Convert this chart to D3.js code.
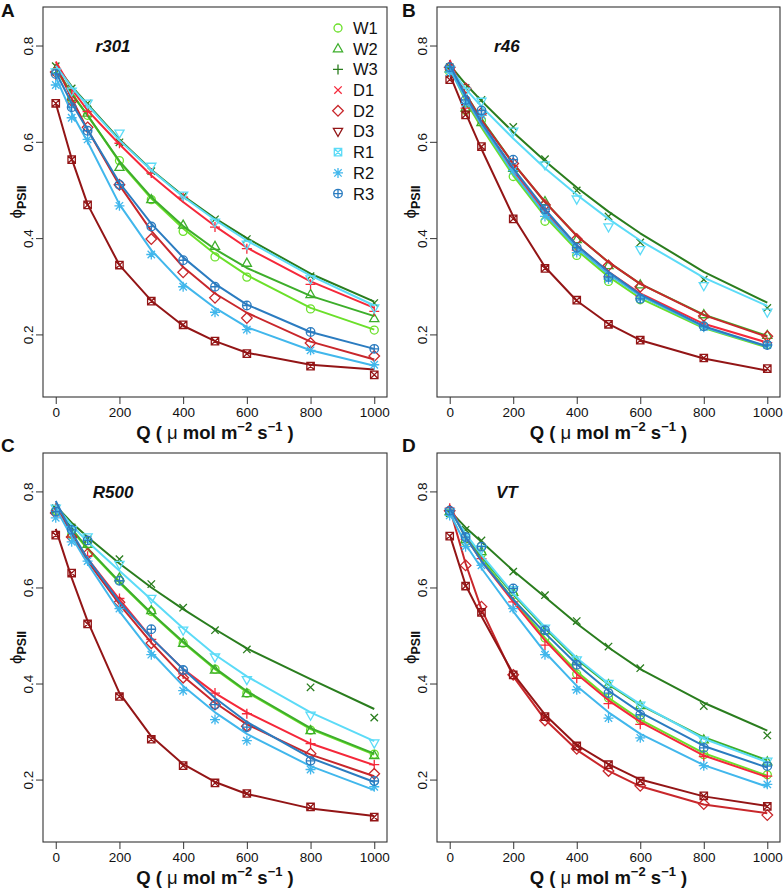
<!DOCTYPE html>
<html><head><meta charset="utf-8">
<script src="https://cdn.jsdelivr.net/npm/d3@7"></script>
<style>
body{margin:0;background:#fff}
text{font-family:"Liberation Sans",Arial,Helvetica,sans-serif;fill:#111}
</style>
</head><body>
<svg id="chart" width="783" height="891"></svg>
<script>
// ---------- data ----------
const Q = [0, 50, 100, 200, 300, 400, 500, 600, 800, 1000];
const seriesNames = ["W1","W2","W3","D1","D2","D3","R1","R2","R3"];
const seriesColors = ["#6BE02A","#3DAE2B","#2A7D1E","#F5283A","#C8272B","#931516","#5CDBF7","#41B7EC","#2B7CC0"];
const plotShapes   = ["circle","triUp","cross","plus","diamond","squareX","triDown","asterisk","circlePlus"];
const legendShapes = ["circle","triUp","plus","cross","diamond","triDown","squareX","asterisk","circlePlus"];
const xTicks = [0, 200, 400, 600, 800, 1000];
const yTicks = [0.2, 0.4, 0.6, 0.8];
const panelLetters = ["A","B","C","D"];
const panelTitles = ["r301","r46","R500","VT"];

// observed points, panel A (r301)
const obsA = [
 [0.745,0.690,0.655,0.561,0.480,0.414,0.361,0.319,0.253,0.209],
 [0.750,0.692,0.660,0.547,0.480,0.427,0.383,0.348,0.283,0.233],
 [0.757,0.711,0.680,0.599,0.539,0.487,0.439,0.398,0.321,0.265],
 [0.739,0.700,0.663,0.597,0.535,0.485,0.423,0.378,0.304,0.248],
 [0.745,0.685,0.630,0.511,0.398,0.329,0.276,0.234,0.182,0.155],
 [0.680,0.563,0.469,0.344,0.269,0.220,0.186,0.160,0.134,0.116],
 [0.745,0.705,0.680,0.618,0.549,0.489,0.433,0.387,0.315,0.255],
 [0.718,0.650,0.605,0.467,0.366,0.299,0.246,0.210,0.167,0.137],
 [0.741,0.672,0.623,0.511,0.424,0.354,0.299,0.260,0.205,0.170]];
const fitA = [
 [0.750,0.700,0.655,0.558,0.482,0.420,0.367,0.323,0.255,0.210],
 [0.755,0.700,0.655,0.560,0.485,0.425,0.377,0.338,0.280,0.238],
 [0.760,0.715,0.678,0.605,0.542,0.488,0.441,0.400,0.326,0.268],
 [0.767,0.710,0.665,0.595,0.530,0.475,0.425,0.380,0.310,0.255],
 [0.760,0.690,0.625,0.510,0.415,0.340,0.285,0.245,0.185,0.148],
 [0.680,0.565,0.470,0.344,0.270,0.218,0.186,0.162,0.137,0.127],
 [0.758,0.713,0.676,0.603,0.541,0.486,0.438,0.395,0.322,0.260],
 [0.735,0.660,0.600,0.470,0.375,0.305,0.255,0.215,0.167,0.135],
 [0.745,0.680,0.625,0.515,0.430,0.360,0.305,0.262,0.205,0.170]];
// panel B (r46)
const obsB = [
 [0.745,0.665,0.645,0.528,0.435,0.364,0.310,0.272,0.217,0.179],
 [0.752,0.670,0.640,0.545,0.476,0.397,0.343,0.303,0.241,0.198],
 [0.755,0.712,0.687,0.631,0.564,0.499,0.445,0.391,0.314,0.255],
 [0.750,0.670,0.655,0.549,0.455,0.375,0.320,0.280,0.220,0.183],
 [0.755,0.711,0.660,0.555,0.469,0.398,0.343,0.299,0.238,0.196],
 [0.729,0.656,0.590,0.440,0.337,0.271,0.221,0.188,0.151,0.129],
 [0.750,0.705,0.684,0.622,0.552,0.481,0.423,0.376,0.301,0.246],
 [0.745,0.680,0.655,0.540,0.445,0.370,0.315,0.275,0.215,0.178],
 [0.755,0.687,0.665,0.563,0.460,0.380,0.319,0.274,0.217,0.178]];
const fitB = [
 [0.755,0.685,0.630,0.530,0.445,0.375,0.320,0.275,0.213,0.173],
 [0.760,0.700,0.647,0.555,0.475,0.405,0.350,0.305,0.241,0.197],
 [0.760,0.720,0.685,0.620,0.560,0.505,0.455,0.410,0.330,0.266],
 [0.770,0.690,0.635,0.540,0.455,0.385,0.330,0.285,0.222,0.183],
 [0.765,0.700,0.645,0.555,0.475,0.405,0.350,0.305,0.240,0.195],
 [0.740,0.660,0.585,0.445,0.340,0.270,0.222,0.188,0.150,0.125],
 [0.755,0.710,0.673,0.607,0.545,0.490,0.440,0.395,0.318,0.259],
 [0.750,0.690,0.635,0.535,0.450,0.380,0.325,0.280,0.215,0.175],
 [0.760,0.695,0.640,0.545,0.460,0.385,0.330,0.283,0.217,0.175]];
// panel C (R500)
const obsC = [
 [0.760,0.710,0.690,0.615,0.550,0.484,0.430,0.380,0.303,0.253],
 [0.762,0.712,0.690,0.620,0.552,0.484,0.428,0.379,0.302,0.250],
 [0.765,0.725,0.700,0.659,0.607,0.558,0.511,0.471,0.392,0.329],
 [0.760,0.705,0.665,0.577,0.492,0.420,0.380,0.337,0.275,0.231],
 [0.755,0.705,0.670,0.569,0.484,0.412,0.356,0.311,0.254,0.212],
 [0.709,0.630,0.524,0.373,0.284,0.229,0.193,0.171,0.143,0.122],
 [0.765,0.720,0.705,0.648,0.577,0.511,0.455,0.408,0.334,0.276],
 [0.745,0.695,0.655,0.556,0.460,0.385,0.325,0.281,0.221,0.185],
 [0.758,0.720,0.698,0.614,0.513,0.428,0.356,0.309,0.239,0.197]];
const fitC = [
 [0.770,0.720,0.680,0.610,0.545,0.485,0.430,0.382,0.305,0.252],
 [0.772,0.722,0.682,0.612,0.547,0.487,0.432,0.384,0.307,0.254],
 [0.770,0.735,0.705,0.650,0.600,0.555,0.513,0.473,0.409,0.347],
 [0.775,0.710,0.660,0.575,0.495,0.430,0.380,0.340,0.275,0.230],
 [0.775,0.710,0.655,0.565,0.485,0.415,0.360,0.315,0.252,0.207],
 [0.722,0.620,0.530,0.380,0.290,0.232,0.195,0.170,0.140,0.124],
 [0.770,0.730,0.695,0.635,0.575,0.515,0.460,0.415,0.340,0.280],
 [0.765,0.705,0.650,0.550,0.465,0.395,0.340,0.295,0.228,0.178],
 [0.780,0.715,0.660,0.570,0.495,0.430,0.370,0.320,0.245,0.195]];
// panel D (VT)
const obsD = [
 [0.755,0.695,0.670,0.585,0.495,0.420,0.370,0.325,0.252,0.210],
 [0.758,0.700,0.675,0.590,0.510,0.447,0.398,0.354,0.283,0.237],
 [0.755,0.720,0.698,0.633,0.584,0.530,0.477,0.432,0.353,0.292],
 [0.765,0.700,0.660,0.570,0.480,0.411,0.358,0.315,0.248,0.207],
 [0.760,0.646,0.560,0.418,0.323,0.264,0.218,0.187,0.149,0.126],
 [0.707,0.603,0.548,0.418,0.331,0.270,0.231,0.197,0.166,0.144],
 [0.757,0.705,0.680,0.595,0.515,0.449,0.400,0.355,0.282,0.238],
 [0.750,0.685,0.646,0.556,0.460,0.387,0.328,0.287,0.229,0.190],
 [0.760,0.705,0.685,0.598,0.511,0.439,0.380,0.335,0.266,0.228]];
const fitD = [
 [0.765,0.705,0.660,0.575,0.495,0.425,0.370,0.325,0.255,0.208],
 [0.762,0.710,0.665,0.585,0.515,0.450,0.398,0.355,0.288,0.240],
 [0.760,0.725,0.695,0.635,0.580,0.525,0.475,0.430,0.360,0.302],
 [0.770,0.705,0.655,0.570,0.490,0.420,0.365,0.320,0.250,0.205],
 [0.765,0.650,0.555,0.415,0.325,0.262,0.218,0.186,0.148,0.130],
 [0.710,0.605,0.540,0.420,0.335,0.272,0.232,0.200,0.165,0.145],
 [0.760,0.712,0.668,0.588,0.518,0.453,0.400,0.357,0.285,0.236],
 [0.755,0.690,0.640,0.550,0.465,0.395,0.340,0.295,0.230,0.185],
 [0.765,0.705,0.655,0.575,0.505,0.440,0.385,0.340,0.270,0.225]];

// ---------- layout ----------
const svg = d3.select("#chart");
const panels = [
  {obs:obsA, fit:fitA, l:43,  r:387, t:7,   b:397, letter:[1,17],   legend:true},
  {obs:obsB, fit:fitB, l:437, r:780, t:7,   b:397, letter:[402,17], legend:false},
  {obs:obsC, fit:fitC, l:43,  r:387, t:453, b:842, letter:[1,452],  legend:false},
  {obs:obsD, fit:fitD, l:437, r:780, t:453, b:842, letter:[402,452],legend:false}
];

function shapePath(name){
  const c = "M-3.7,-3.7L3.7,3.7M-3.7,3.7L3.7,-3.7";
  const p = "M-5,0H5M0,-5V5";
  const circ = r => `M${r},0A${r},${r} 0 1,1 ${-r},0A${r},${r} 0 1,1 ${r},0Z`;
  switch(name){
    case "circle": return circ(4);
    case "triUp": return "M0,-5L4.6,3.1L-4.6,3.1Z";
    case "triDown": return "M0,5L4.6,-3.1L-4.6,-3.1Z";
    case "plus": return p;
    case "cross": return c;
    case "diamond": return "M0,-5.3L5.3,0L0,5.3L-5.3,0Z";
    case "squareX": return "M-3.7,-3.7H3.7V3.7H-3.7Z" + c;
    case "asterisk": return p + c;
    case "circlePlus": return circ(4.3) + "M-4.3,0H4.3M0,-4.3V4.3";
  }
}

panels.forEach((P, pi) => {
  const x = d3.scaleLinear().domain([-40, 1040]).range([P.l, P.r]);
  const y = d3.scaleLinear().domain([0.07, 0.88]).range([P.b, P.t]);
  const g = svg.append("g");

  // series
  const line = d3.line().x(d => x(d[0])).y(d => y(d[1]));
  seriesNames.forEach((s, si) => {
    const fitPts = Q.map((q, i) => [q, P.fit[si][i]]);
    g.append("path").attr("d", line(fitPts))
      .attr("fill","none").attr("stroke", seriesColors[si])
      .attr("stroke-width", 2).attr("stroke-linejoin","round");
    g.selectAll(null).data(Q.map((q, i) => [q, P.obs[si][i]])).join("path")
      .attr("transform", d => `translate(${x(d[0])},${y(d[1])})`)
      .attr("d", shapePath(plotShapes[si]))
      .attr("fill","none").attr("stroke", seriesColors[si]).attr("stroke-width", 1.3);
  });

  // box
  g.append("rect").attr("x", P.l).attr("y", P.t)
    .attr("width", P.r - P.l).attr("height", P.b - P.t)
    .attr("fill","none").attr("stroke","#333").attr("stroke-width",1.1);

  // x axis
  const xa = g.append("g").attr("transform", `translate(0,${P.b})`)
    .call(d3.axisBottom(x).tickValues(xTicks).tickFormat(d3.format("d"))
      .tickSize(7).tickSizeOuter(0).tickPadding(3));
  xa.select(".domain").remove();
  xa.selectAll("line").attr("stroke","#333");
  xa.selectAll("text").attr("font-size","13.5px").attr("fill","#111")
    .style("font-family",'"Liberation Sans",Arial,sans-serif');

  // y axis
  const ya = g.append("g").attr("transform", `translate(${P.l},0)`)
    .call(d3.axisLeft(y).tickValues(yTicks).tickFormat(d3.format(".1f")).tickSize(7).tickSizeOuter(0));
  ya.select(".domain").remove();
  ya.selectAll("line").attr("stroke","#333");
  ya.selectAll("text").attr("font-size","13.5px").attr("fill","#111")
    .attr("text-anchor","middle").attr("x",0).attr("dy",0)
    .attr("transform","translate(-10,0) rotate(-90)")
    .style("font-family",'"Liberation Sans",Arial,sans-serif');

  // x label
  const cx = (P.l + P.r) / 2;
  const xl = g.append("text").attr("x", cx).attr("y", P.b + 42)
    .attr("text-anchor","middle").attr("font-size","18.5px").attr("font-weight","bold");
  xl.append("tspan").text("Q ( ");
  xl.append("tspan").attr("font-weight","normal").text("μ");
  xl.append("tspan").text(" mol m");
  xl.append("tspan").attr("font-size","13px").attr("dy",-8).text("−2");
  xl.append("tspan").attr("dy",8).text(" s");
  xl.append("tspan").attr("font-size","13px").attr("dy",-8).text("−1");
  xl.append("tspan").attr("dy",8).text(" )");

  // y label
  const cy = (P.t + P.b) / 2;
  const yl = g.append("text").attr("transform", `translate(${P.l - 21},${cy}) rotate(-90)`)
    .attr("text-anchor","middle");
  yl.append("tspan").attr("font-size","17px").text("ϕ");
  yl.append("tspan").attr("font-size","12.5px").attr("font-weight","bold").attr("dy",4).text("PSII");

  // panel letter
  g.append("text").attr("x", P.letter[0]).attr("y", P.letter[1])
    .attr("font-size","19px").attr("font-weight","bold").text(panelLetters[pi]);

  // title
  g.append("text").attr("x", x(180)).attr("y", y(0.8)).attr("dy","0.36em")
    .attr("text-anchor","middle").attr("font-size","17px")
    .attr("font-weight","bold").attr("font-style","italic").text(panelTitles[pi]);

  // legend
  if (P.legend) {
    const lg = g.append("g");
    seriesNames.forEach((s, si) => {
      const yy = 28 + si * 20.7;
      lg.append("path").attr("transform", `translate(338,${yy})`)
        .attr("d", shapePath(legendShapes[si]))
        .attr("fill","none").attr("stroke", seriesColors[si]).attr("stroke-width",1.3);
      lg.append("text").attr("x", 353).attr("y", yy).attr("dy","0.36em")
        .attr("font-size","16.5px").text(s);
    });
  }
});
</script>
</body></html>
